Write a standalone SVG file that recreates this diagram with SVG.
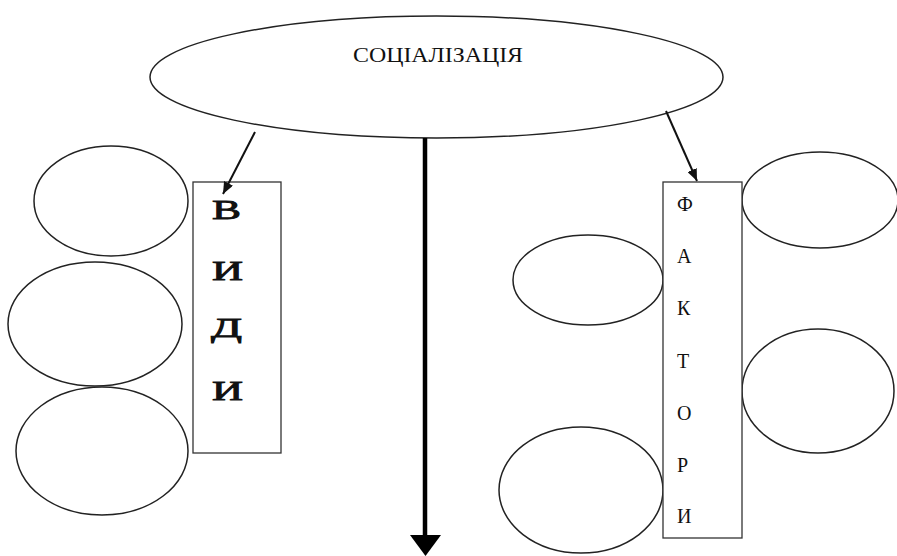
<svg xmlns="http://www.w3.org/2000/svg" width="897" height="556" viewBox="0 0 897 556">
<defs>
<style>
.sh{fill:#fff;stroke:#222;stroke-width:1.5}
.bx{fill:#fff;stroke:#333;stroke-width:1.3}
.t{font-family:"Liberation Serif","Times New Roman",serif;fill:#111}
.big{font-size:28px;stroke:#111;stroke-width:0.9}
.sm{font-size:20px}
.c{stroke:#111;stroke-width:2;fill:none}
</style>
<marker id="ah" viewBox="0 0 12 10" refX="12" refY="5" markerWidth="12" markerHeight="10" markerUnits="userSpaceOnUse" orient="auto">
<path d="M0,0 L12,5 L0,10 Z" fill="#111"/>
</marker>
</defs>
<rect width="897" height="556" fill="#fff"/>
<g id="socialization">
<ellipse class="sh" cx="436.5" cy="77" rx="286.5" ry="61"/>
<text class="t" x="438" y="62" font-size="20" text-anchor="middle" textLength="170" lengthAdjust="spacingAndGlyphs">СОЦІАЛІЗАЦІЯ</text>
</g>
<g id="left-ellipses">
<ellipse class="sh" cx="111" cy="201" rx="77" ry="55"/>
<ellipse class="sh" cx="95" cy="324" rx="87" ry="62"/>
<ellipse class="sh" cx="102" cy="451" rx="86" ry="64"/>
</g>
<g id="vydy">
<rect class="bx" x="193" y="182" width="88" height="271"/>
<text class="t big" x="212" y="219" textLength="29" lengthAdjust="spacingAndGlyphs">В</text>
<text class="t big" x="212" y="280" textLength="31" lengthAdjust="spacingAndGlyphs">И</text>
<text class="t big" x="211" y="337" textLength="31" lengthAdjust="spacingAndGlyphs">Д</text>
<text class="t big" x="212" y="400" textLength="31" lengthAdjust="spacingAndGlyphs">И</text>
</g>
<g id="right-ellipses">
<ellipse class="sh" cx="820" cy="200" rx="78" ry="48"/>
<ellipse class="sh" cx="588" cy="280" rx="75" ry="45"/>
<ellipse class="sh" cx="818" cy="391" rx="76" ry="62"/>
<ellipse class="sh" cx="581" cy="490" rx="82" ry="63"/>
</g>
<g id="faktory">
<rect class="bx" x="663" y="182" width="79" height="356"/>
<text class="t sm" x="677" y="211">Ф</text>
<text class="t sm" x="677" y="263">А</text>
<text class="t sm" x="677" y="315">К</text>
<text class="t sm" x="677" y="368">Т</text>
<text class="t sm" x="677" y="420">О</text>
<text class="t sm" x="677" y="472">Р</text>
<text class="t sm" x="677" y="523">И</text>
</g>
<g id="connectors">
<line class="c" x1="255" y1="132" x2="223" y2="194" marker-end="url(#ah)"/>
<line class="c" x1="666" y1="111" x2="697" y2="181" marker-end="url(#ah)"/>
<line x1="425" y1="138" x2="425" y2="537" stroke="#000" stroke-width="4.5"/>
<path d="M410,535 L441,535 L425.5,556 Z" fill="#000"/>
</g>
</svg>
